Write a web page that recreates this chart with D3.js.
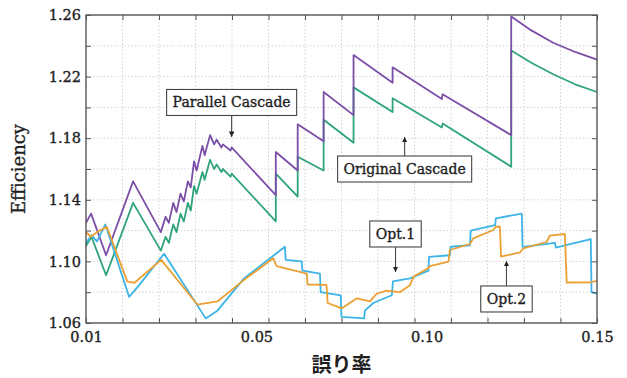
<!DOCTYPE html>
<html>
<head>
<meta charset="utf-8">
<script src="https://cdn.jsdelivr.net/npm/d3@7"></script>
<style>
  body { margin: 0; background: #fff; }
  text { font-family: "DejaVu Serif", serif; fill: #1e1e1e; stroke: #1e1e1e; stroke-width: 0.35px; }
</style>
</head>
<body>
<svg id="chart" width="627" height="378"></svg>
<script>
// [error rate, efficiency]
const parallelCascade = [
  [0.0100, 1.125], [0.0114, 1.131], [0.0155, 1.104], [0.0229, 1.152], [0.0305, 1.119],
  [0.0318, 1.129], [0.0327, 1.125], [0.0339, 1.138], [0.0348, 1.132], [0.0359, 1.144],
  [0.0368, 1.139], [0.0379, 1.152], [0.0387, 1.148], [0.0396, 1.165], [0.0403, 1.159],
  [0.0419, 1.175], [0.0425, 1.169], [0.0440, 1.182], [0.0451, 1.176], [0.0458, 1.179],
  [0.0471, 1.174], [0.0475, 1.176], [0.0496, 1.172], [0.0499, 1.174],
  [0.0620, 1.143], [0.0620, 1.171], [0.0680, 1.159], [0.0680, 1.189], [0.0751, 1.178],
  [0.0751, 1.210], [0.0833, 1.195], [0.0833, 1.234], [0.0940, 1.216], [0.0940, 1.226],
  [0.1075, 1.2055], [0.1077, 1.2085], [0.1265, 1.182], [0.1265, 1.259], [0.132, 1.250],
  [0.138, 1.242], [0.144, 1.236], [0.150, 1.231]
];
const originalCascade = [
  [0.0100, 1.110], [0.0115, 1.116], [0.0155, 1.091], [0.0229, 1.138], [0.0305, 1.107],
  [0.0318, 1.116], [0.0327, 1.112], [0.0339, 1.124], [0.0348, 1.119], [0.0359, 1.131],
  [0.0368, 1.126], [0.0379, 1.138], [0.0387, 1.133], [0.0396, 1.149], [0.0403, 1.144],
  [0.0419, 1.158], [0.0425, 1.153], [0.0440, 1.166], [0.0451, 1.160], [0.0458, 1.163],
  [0.0471, 1.158], [0.0475, 1.160], [0.0496, 1.155], [0.0499, 1.157],
  [0.0620, 1.126], [0.0620, 1.157], [0.0680, 1.142], [0.0680, 1.168], [0.0751, 1.159],
  [0.0751, 1.192], [0.0833, 1.177], [0.0833, 1.213], [0.0940, 1.197], [0.0940, 1.206],
  [0.1075, 1.187], [0.1077, 1.1895], [0.1265, 1.1615], [0.1265, 1.237], [0.132, 1.229],
  [0.138, 1.2215], [0.144, 1.215], [0.150, 1.210]
];
const opt1 = [
  [0.0100, 1.112], [0.0115, 1.117], [0.0130, 1.113], [0.0153, 1.124], [0.0218, 1.077],
  [0.0240, 1.083], [0.0314, 1.105], [0.0428, 1.063], [0.0460, 1.068], [0.0533, 1.089],
  [0.0645, 1.1095], [0.0647, 1.101], [0.0691, 1.100], [0.0693, 1.094], [0.0741, 1.092],
  [0.0743, 1.080], [0.0798, 1.078], [0.0800, 1.064], [0.0862, 1.063], [0.0864, 1.068],
  [0.0887, 1.073], [0.0938, 1.078], [0.0941, 1.087], [0.0988, 1.089], [0.1038, 1.094],
  [0.1040, 1.103], [0.1097, 1.104], [0.1099, 1.1095], [0.1152, 1.1105], [0.1154, 1.120],
  [0.1221, 1.1235], [0.1223, 1.128], [0.1294, 1.131], [0.1296, 1.1095], [0.1385, 1.112],
  [0.1387, 1.109], [0.1483, 1.1145], [0.1485, 1.080], [0.1500, 1.079]
];
const opt2 = [
  [0.0100, 1.119], [0.0113, 1.116], [0.0130, 1.119], [0.0157, 1.1225], [0.0213, 1.087],
  [0.0232, 1.086], [0.0306, 1.101], [0.0405, 1.072], [0.0460, 1.074], [0.0533, 1.088],
  [0.0613, 1.102], [0.0622, 1.097], [0.0705, 1.092], [0.0707, 1.085], [0.0759, 1.0847],
  [0.0762, 1.073], [0.0801, 1.0695], [0.0842, 1.076], [0.0878, 1.074], [0.0896, 1.079],
  [0.0924, 1.081], [0.0960, 1.080], [0.0988, 1.0847], [0.0997, 1.090], [0.1038, 1.0957],
  [0.1042, 1.097], [0.1093, 1.0998], [0.1097, 1.1074], [0.1152, 1.1113], [0.1161, 1.115],
  [0.1216, 1.1204], [0.1223, 1.1225], [0.1234, 1.1225], [0.1237, 1.1031], [0.1289, 1.1058],
  [0.1298, 1.1085], [0.1362, 1.1126], [0.1371, 1.1168], [0.1412, 1.1178], [0.1417, 1.0863],
  [0.1481, 1.0864], [0.1500, 1.0873]
];

const yTickLabels = ['1.06', '1.10', '1.14', '1.18', '1.22', '1.26'];
const xTickLabels = ['0.01', '0.05', '0.10', '0.15'];
// the original puts its x labels evenly along the axis, not at their values
const xLabelAt = [0.01, 0.0567, 0.1033, 0.15];

const series = [
  { name: 'Original Cascade', data: originalCascade, color: '#2ea37c' },
  { name: 'Parallel Cascade', data: parallelCascade, color: '#7b4ea7' },
  { name: 'Opt.1', data: opt1, color: '#3db4e8' },
  { name: 'Opt.2', data: opt2, color: '#eaa032' }
];

// callouts: box centre and arrow tip, in data units
const notes = [
  { text: 'Parallel Cascade', x: 0.0499, y: 1.2032, tipY: 1.1808 },
  { text: 'Original Cascade', x: 0.0973, y: 1.1600, tipY: 1.1808 },
  { text: 'Opt.1', x: 0.0948, y: 1.1178, tipY: 1.0931 },
  { text: 'Opt.2', x: 0.1252, y: 1.0756, tipY: 1.1003 }
];

const margin = { top: 15, right: 30, bottom: 55, left: 86 };
const width = 627 - margin.left - margin.right;
const height = 378 - margin.top - margin.bottom;

const svg = d3.select('#chart');
const g = svg.append('g').attr('transform', `translate(${margin.left},${margin.top})`);

const x = d3.scaleLinear().domain([0.01, 0.15]).range([0, width]);
const y = d3.scaleLinear().domain([1.06, 1.26]).range([height, 0]);

const xTicks = d3.range(1, 16).map((d) => d / 100);
const yTicks = d3.range(53, 64).map((d) => d / 50);

// grid
g.append('g')
  .selectAll('line')
  .data(xTicks.slice(1, -1))
  .join('line')
  .attr('x1', (d) => x(d)).attr('x2', (d) => x(d))
  .attr('y1', 0).attr('y2', height)
  .attr('stroke', '#c8c8c8').attr('stroke-width', 0.8).attr('stroke-dasharray', '1.5,2');
g.append('g')
  .selectAll('line')
  .data(yTicks.slice(1, -1))
  .join('line')
  .attr('y1', (d) => y(d)).attr('y2', (d) => y(d))
  .attr('x1', 0).attr('x2', width)
  .attr('stroke', '#c8c8c8').attr('stroke-width', 0.8).attr('stroke-dasharray', '1.5,2');

// lines
const line = d3.line().x((d) => x(d[0])).y((d) => y(d[1]));
series.forEach((s) => {
  g.append('path')
    .datum(s.data)
    .attr('fill', 'none')
    .attr('stroke', s.color)
    .attr('stroke-width', 1.8)
    .attr('stroke-linejoin', 'round')
    .attr('d', line);
});

// inward ticks on all four sides
const tickStyle = (sel) => {
  sel.select('.domain').remove();
  sel.selectAll('.tick line').attr('stroke', '#555');
};
g.append('g').attr('transform', `translate(0,${height})`)
  .call(d3.axisBottom(x).tickValues(xTicks).tickSize(-5).tickFormat(''))
  .call(tickStyle);
g.append('g')
  .call(d3.axisTop(x).tickValues(xTicks).tickSize(-5).tickFormat(''))
  .call(tickStyle);
g.append('g')
  .call(d3.axisLeft(y).tickValues(yTicks).tickSize(-5).tickFormat(''))
  .call(tickStyle);
g.append('g').attr('transform', `translate(${width},0)`)
  .call(d3.axisRight(y).tickValues(yTicks).tickSize(-5).tickFormat(''))
  .call(tickStyle);

// tick labels
const labelStyle = (sel) => {
  sel.select('.domain').remove();
  sel.selectAll('text')
    .attr('font-size', 14.5)
    .attr('font-family', 'DejaVu Serif')
    .attr('fill', '#1e1e1e');
};
g.append('g').attr('transform', `translate(0,${height})`)
  .call(d3.axisBottom(x).tickValues(xLabelAt).tickSize(0).tickPadding(9)
    .tickFormat((d, i) => xTickLabels[i]))
  .call(labelStyle);
g.append('g')
  .call(d3.axisLeft(y).tickValues(yTickLabels.map(Number)).tickSize(0).tickPadding(5)
    .tickFormat((d, i) => yTickLabels[i]))
  .call(labelStyle);

// frame
g.append('rect')
  .attr('width', width).attr('height', height)
  .attr('fill', 'none').attr('stroke', '#555').attr('stroke-width', 1.4);

// axis titles
g.append('text')
  .attr('transform', `translate(${-61},${height / 2}) rotate(-90)`)
  .attr('text-anchor', 'middle')
  .attr('font-size', 18)
  .text('Efficiency');
g.append('text')
  .attr('x', width / 2).attr('y', height + 49)
  .attr('text-anchor', 'middle')
  .attr('font-size', 20)
  .attr('font-weight', 'bold')
  .style('font-family', '"Noto Sans CJK JP", sans-serif')
  .style('stroke-width', '0px')
  .text('誤り率');

// callouts
svg.append('defs').append('marker')
  .attr('id', 'arrow')
  .attr('viewBox', '0 0 10 10')
  .attr('refX', 10).attr('refY', 5)
  .attr('markerWidth', 5).attr('markerHeight', 5)
  .attr('orient', 'auto')
  .append('path').attr('d', 'M0,0L10,5L0,10z').attr('fill', '#222');

notes.forEach((n) => {
  const cx = x(n.x);
  const cy = y(n.y);
  const ng = g.append('g');
  const t = ng.append('text')
    .attr('x', cx).attr('y', cy)
    .attr('dy', '0.35em')
    .attr('text-anchor', 'middle')
    .attr('font-size', 14)
    .text(n.text);
  const bb = t.node().getBBox();
  const bh = 26;
  const bw = bb.width + 12;
  ng.insert('rect', 'text')
    .attr('x', cx - bw / 2).attr('y', cy - bh / 2)
    .attr('width', bw).attr('height', bh)
    .attr('fill', '#fff').attr('stroke', '#444').attr('stroke-width', 1.1);
  const tip = y(n.tipY);
  const start = tip > cy ? cy + bh / 2 : cy - bh / 2;
  ng.append('line')
    .attr('x1', cx).attr('x2', cx)
    .attr('y1', start).attr('y2', tip)
    .attr('stroke', '#444').attr('stroke-width', 1.1)
    .attr('marker-end', 'url(#arrow)');
});
</script>
</body>
</html>
